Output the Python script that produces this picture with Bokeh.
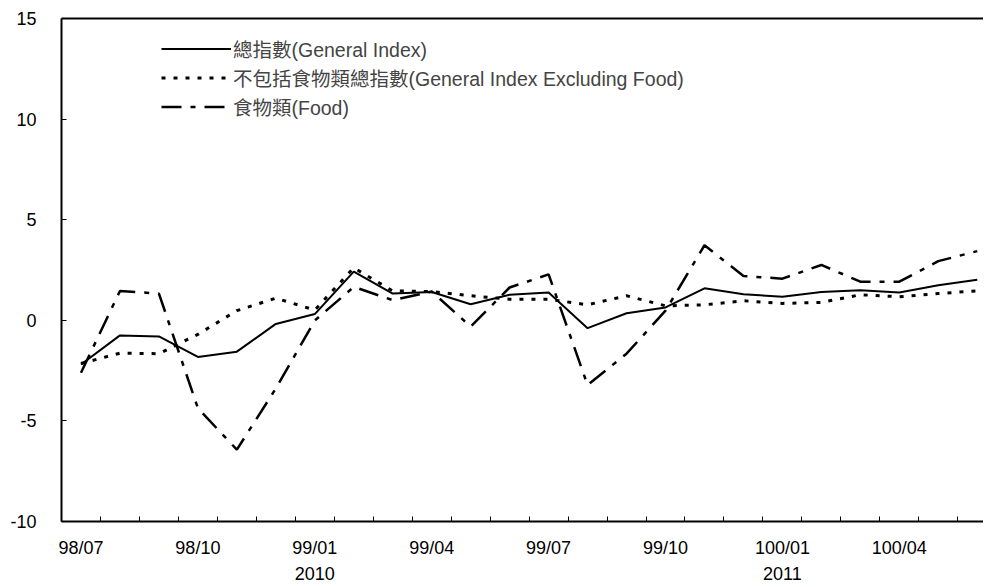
from bokeh.plotting import figure
from bokeh.models import (ColumnDataSource, FixedTicker, LinearAxis, Legend, LegendItem, Range1d)
from bokeh.embed import file_html
from bokeh.resources import INLINE

months = ["98/07", "98/08", "98/09", "98/10", "98/11", "98/12",
          "99/01", "99/02", "99/03", "99/04", "99/05", "99/06",
          "99/07", "99/08", "99/09", "99/10", "99/11", "99/12",
          "100/01", "100/02", "100/03", "100/04", "100/05", "100/06"]
general = [-2.2, -0.75, -0.80, -1.82, -1.56, -0.18, 0.31, 2.42, 1.33, 1.41, 0.80, 1.27,
           1.38, -0.39, 0.35, 0.64, 1.59, 1.30, 1.17, 1.41, 1.49, 1.38, 1.74, 2.01]
excl_food = [-2.15, -1.63, -1.66, -0.70, 0.48, 1.10, 0.51, 2.61, 1.46, 1.43, 1.22, 1.05,
             1.05, 0.77, 1.22, 0.72, 0.77, 0.97, 0.84, 0.89, 1.27, 1.17, 1.33, 1.46]
food = [-2.61, 1.46, 1.33, -4.37, -6.43, -3.39, -0.01, 1.66, 1.00, 1.43, -0.31, 1.63,
        2.28, -3.22, -1.66, 0.48, 3.73, 2.20, 2.07, 2.75, 1.92, 1.92, 2.94, 3.44]
label_names = ["總指數(General Index)",
               "不包括食物類總指數(General Index Excluding Food)",
               "食物類(Food)"]
year_labels = {"99/01": "2010", "100/01": "2011"}
y_ticks = [-10, -5, 0, 5, 10, 15]

x = list(range(len(months)))
src = ColumnDataSource(dict(x=x, general=general, excl=excl_food, food=food))

FONT = "Liberation Sans, Noto Sans CJK TC"

p = figure(width=983, height=586, output_backend="svg", toolbar_location=None,
           x_range=Range1d(-0.5, 23.16), y_range=Range1d(-10, 15),
           min_border_left=61, min_border_right=0, min_border_top=18, min_border_bottom=61,
           x_axis_location=None, y_axis_location=None)
p.outline_line_color = None
p.xgrid.visible = False
p.ygrid.visible = False
p.background_fill_color = "white"

r1 = p.line("x", "general", source=src, line_color="black", line_width=2)
r2 = p.line("x", "excl", source=src, line_color="black", line_width=3, line_dash="4 8")
r3 = p.line("x", "food", source=src, line_color="black", line_width=2.5, line_dash="20 9 5 9")

# y axis
ya = LinearAxis(ticker=FixedTicker(ticks=y_ticks, minor_ticks=[]))
ya.major_label_overrides = {t: str(t) for t in y_ticks}
ya.axis_line_width = 2
ya.major_tick_in = 5
ya.major_tick_out = 0
ya.minor_tick_line_color = None
ya.major_label_standoff = 25
ya.major_label_text_font = FONT
ya.major_label_text_font_size = "18px"
ya.major_label_text_color = "black"
p.add_layout(ya, "left")

# x axis
label_idx = list(range(0, len(months), 3))
overrides = {}
for i in label_idx:
    m = months[i]
    overrides[i] = m + ("\n" + year_labels[m] if m in year_labels else "")
xa = LinearAxis(ticker=FixedTicker(ticks=label_idx,
                                   minor_ticks=[i - 0.5 for i in range(len(months) + 1)]))
xa.major_label_overrides = overrides
xa.axis_line_width = 2
xa.major_tick_in = 0
xa.major_tick_out = 0
xa.minor_tick_in = 5
xa.minor_tick_out = 0
xa.minor_tick_line_color = "black"
xa.major_label_standoff = 16
xa.major_label_text_font = FONT
xa.major_label_text_font_size = "18px"
xa.major_label_text_line_height = 1.3
xa.major_label_text_color = "black"
p.add_layout(xa, "below")

# top border
ta = LinearAxis(ticker=FixedTicker(ticks=[]))
ta.axis_line_width = 2
ta.major_tick_line_color = None
ta.minor_tick_line_color = None
ta.major_label_text_font_size = "0px"
p.add_layout(ta, "above")

legend = Legend(items=[LegendItem(label=label_names[0], renderers=[r1]),
                       LegendItem(label=label_names[1], renderers=[r2]),
                       LegendItem(label=label_names[2], renderers=[r3])],
                location=(100, 400), border_line_color=None, background_fill_alpha=0,
                glyph_width=70, glyph_height=23, label_standoff=2, spacing=-2, padding=0,
                margin=0, label_text_font=FONT, label_text_font_size="19.5px")
p.add_layout(legend, "center")

open("out.html", "w").write(file_html(p, INLINE))
